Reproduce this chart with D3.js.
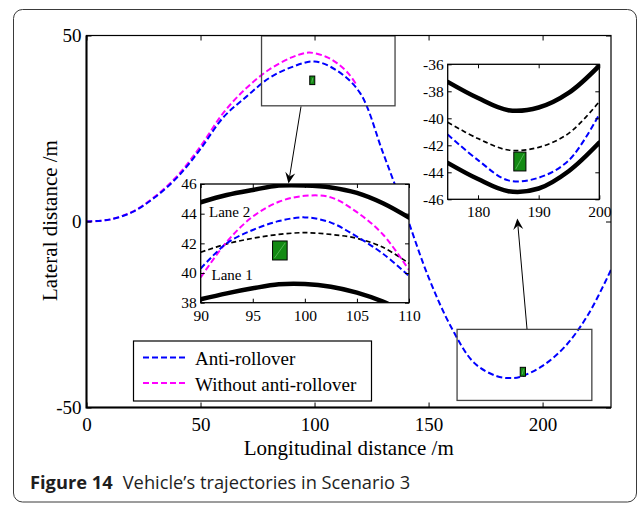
<!DOCTYPE html>
<html>
<head>
<meta charset="utf-8">
<script src="https://cdn.jsdelivr.net/npm/d3@7"></script>
<style>
  body { margin: 0; background: #fff; }
  svg { display: block; }
</style>
</head>
<body>
<svg id="chart" width="637" height="505"></svg>
<script>
// ---- data ----
// main plot trajectories
const mainX = [0, 10, 20, 30, 40, 50, 60, 70, 80, 90, 100, 110, 120, 130, 140, 150, 160, 170, 180, 186, 190, 200, 210, 220, 230];
const antiRollover = [0, 0.5, 2.5, 6.5, 12, 19.5, 28, 33.5, 38.5, 41.5, 43, 40.5, 34.5, 18.5, 2, -15, -28.5, -38, -41.6, -42.1, -41.8, -38.8, -33.5, -25, -13];
const magentaX = [0, 10, 20, 30, 40, 50, 60, 70, 80, 90, 97.5, 105, 110, 115, 118.5];
const withoutAntiRollover = [0, 0.5, 2.6, 6.7, 12.4, 20.2, 29.2, 35.8, 40.8, 44.1, 45.4, 44.3, 42.5, 39.7, 36.6];

// zoom rectangles drawn on the main plot (data units)
const zoomBoxes = [
    { x0: 76.75, x1: 135.3, y0: 31.1, y1: 49.9 },
    { x0: 162.5, x1: 221.6, y0: -48.1, y1: -29.0 }
];
// vehicle markers on the main plot
const mainVehicles = [
    { x0: 97.9, x1: 100.1, y0: 36.8, y1: 39.1 },
    { x0: 190.2, x1: 192.5, y0: -41.6, y1: -39.2 }
];

// inset 1 (x 90..110, y 38..46)
const inset1X = [90, 92.5, 95, 97.5, 100, 102.5, 105, 107.5, 110];
const inset1Blue = [40.3, 42.0, 42.9, 43.5, 43.75, 43.4, 42.45, 41.3, 39.8];
const inset1Magenta = [39.7, 42.1, 43.8, 44.8, 45.2, 45.1, 44.1, 42.6, 40.2];
const inset1Center = [41.4, 41.96, 42.34, 42.6, 42.72, 42.6, 42.34, 41.73, 40.65];
const inset1Lane2Edge = [44.77, 45.26, 45.6, 45.89, 45.9, 45.77, 45.4, 44.7, 43.73];
const inset1Lane1Edge = [38.23, 38.63, 38.97, 39.24, 39.26, 39.08, 38.68, 38.07, 37.2];
const inset1Vehicle = { x0: 96.9, x1: 98.3, y0: 40.88, y1: 42.16 };

// inset 2 (x 175..200, y -46..-36)
const inset2X = [175, 180, 185, 190, 195, 200];
const inset2Upper = [-37.3, -38.5, -39.4, -39.2, -38.1, -36.1];
const inset2Center = [-40.3, -41.5, -42.35, -42.15, -41.1, -38.77];
const inset2Blue = [-41.2, -43.1, -44.6, -44.4, -43.1, -39.7];
const inset2Lower = [-43.3, -44.5, -45.4, -45.2, -43.9, -41.8];
const inset2Vehicle = { x0: 185.9, x1: 187.9, y0: -43.9, y1: -42.5 };

const mainXTicks = [0, 50, 100, 150, 200];
const mainYTicks = [-50, 0, 50];
const inset1XTicks = [90, 95, 100, 105, 110];
const inset1YTicks = [38, 40, 42, 44, 46];
const inset2XTicks = [180, 190, 200];
const inset2YTicks = [-46, -44, -42, -40, -38, -36];

const seriesNames = ['Anti-rollover', 'Without anti-rollover'];
const seriesColours = ['#0000ff', '#ff00ff'];

// ---- drawing ----
const SERIF = '"Liberation Serif", "Times New Roman", serif';
const svg = d3.select('#chart');

// outer figure frame
svg.append('rect')
    .attr('x', 13.5).attr('y', 9.5)
    .attr('width', 623).attr('height', 492.5)
    .attr('rx', 9)
    .attr('fill', 'none')
    .attr('stroke', '#3a3a3a')
    .attr('stroke-width', 1);

const x = d3.scaleLinear().domain([0, 230]).range([86.5, 611]);
const y = d3.scaleLinear().domain([-50, 50]).range([407.5, 35.5]);

const toPts = (xs, ys) => xs.map((v, i) => [v, ys[i]]);
const plainNum = d => String(d); // hyphen minus like the original

function linePath(xs, ys, sx, sy) {
    return d3.line()
        .x(d => sx(d[0]))
        .y(d => sy(d[1]))
        .curve(d3.curveCatmullRom.alpha(0.5))(toPts(xs, ys));
}

function styleAxis(g, size) {
    g.attr('font-family', SERIF).attr('font-size', size);
    g.select('.domain').remove();
    g.selectAll('.tick line').attr('stroke', '#000').attr('stroke-width', 1);
    g.selectAll('.tick text')
        .style('font-family', SERIF)
        .style('font-size', `${size}px`)
        .style('fill', '#000');
}

// clip for main plot
const defs = svg.append('defs');
defs.append('clipPath').attr('id', 'clipMain')
    .append('rect')
    .attr('x', x(0)).attr('y', y(50))
    .attr('width', x(230) - x(0)).attr('height', y(-50) - y(50));

const main = svg.append('g');

// main curves
const mainCurves = main.append('g').attr('clip-path', 'url(#clipMain)');
mainCurves.append('path')
    .attr('d', linePath(magentaX, withoutAntiRollover, x, y))
    .attr('fill', 'none')
    .attr('stroke', seriesColours[1])
    .attr('stroke-width', 2)
    .attr('stroke-dasharray', '6,3');
mainCurves.append('path')
    .attr('d', linePath(mainX, antiRollover, x, y))
    .attr('fill', 'none')
    .attr('stroke', seriesColours[0])
    .attr('stroke-width', 2)
    .attr('stroke-dasharray', '6,3');

// zoom boxes
main.selectAll('rect.zoombox')
    .data(zoomBoxes)
    .enter()
    .append('rect')
    .attr('class', 'zoombox')
    .attr('x', d => x(d.x0))
    .attr('y', d => y(d.y1))
    .attr('width', d => x(d.x1) - x(d.x0))
    .attr('height', d => y(d.y0) - y(d.y1))
    .attr('fill', 'none')
    .attr('stroke', '#444')
    .attr('stroke-width', 1.3);

function drawVehicle(g, v, sx, sy) {
    g.append('rect')
        .attr('x', sx(v.x0))
        .attr('y', sy(v.y1))
        .attr('width', sx(v.x1) - sx(v.x0))
        .attr('height', sy(v.y0) - sy(v.y1))
        .attr('fill', '#138a13')
        .attr('stroke', '#000')
        .attr('stroke-width', 1);
    g.append('line')
        .attr('x1', sx(v.x0) + 2).attr('y1', sy(v.y0) - 2)
        .attr('x2', sx(v.x1) - 2).attr('y2', sy(v.y1) + 2)
        .attr('stroke', '#7fd07f')
        .attr('stroke-width', 0.6);
}
mainVehicles.forEach(v => drawVehicle(main, v, x, y));

// main axes
main.append('g')
    .attr('transform', `translate(0,${y(-50)})`)
    .call(d3.axisBottom(x).tickValues(mainXTicks).tickSize(-5).tickPadding(10).tickFormat(plainNum))
    .call(g => styleAxis(g, 19));
main.append('g')
    .attr('transform', `translate(0,${y(50)})`)
    .call(d3.axisTop(x).tickValues(mainXTicks).tickSize(-5).tickFormat(''))
    .call(g => styleAxis(g, 19));
main.append('g')
    .attr('transform', `translate(${x(0)},0)`)
    .call(d3.axisLeft(y).tickValues(mainYTicks).tickSize(-5).tickPadding(5).tickFormat(plainNum))
    .call(g => styleAxis(g, 19));
main.append('g')
    .attr('transform', `translate(${x(230)},0)`)
    .call(d3.axisRight(y).tickValues(mainYTicks).tickSize(-5).tickFormat(''))
    .call(g => styleAxis(g, 19));
main.append('rect')
    .attr('x', x(0)).attr('y', y(50))
    .attr('width', x(230) - x(0)).attr('height', y(-50) - y(50))
    .attr('fill', 'none').attr('stroke', '#000').attr('stroke-width', 1.2);
main.append('path')
    .attr('d', `M${x(0)},${y(50)}V${y(-50)}H${x(230)}`)
    .attr('fill', 'none').attr('stroke', '#000').attr('stroke-width', 2);

// axis titles
svg.append('text')
    .attr('x', (x(0) + x(230)) / 2)
    .attr('y', 455)
    .attr('text-anchor', 'middle')
    .style('font-family', SERIF)
    .style('font-size', '21px')
    .text('Longitudinal distance /m');
svg.append('text')
    .attr('transform', `translate(57,${y(0) - 1}) rotate(-90)`)
    .attr('text-anchor', 'middle')
    .style('font-family', SERIF)
    .style('font-size', '21px')
    .text('Lateral distance /m');

// legend
const legend = svg.append('g');
legend.append('rect')
    .attr('x', 133.5).attr('y', 341)
    .attr('width', 238).attr('height', 60)
    .attr('fill', '#fff').attr('stroke', '#000').attr('stroke-width', 1.2);
const legendRows = [357.5, 383];
seriesNames.forEach((name, i) => {
    legend.append('line')
        .attr('x1', 143).attr('x2', 188)
        .attr('y1', legendRows[i]).attr('y2', legendRows[i])
        .attr('stroke', seriesColours[i])
        .attr('stroke-width', 2)
        .attr('stroke-dasharray', '6,3');
    legend.append('text')
        .attr('x', 195)
        .attr('y', legendRows[i] + 7.5)
        .style('font-family', SERIF)
        .style('font-size', '19px')
        .text(name);
});

// ---- insets ----
function drawInset(opts) {
    const sx = d3.scaleLinear().domain(opts.xDomain).range(opts.xRange);
    const sy = d3.scaleLinear().domain(opts.yDomain).range(opts.yRange);
    const g = svg.append('g');
    defs.append('clipPath').attr('id', opts.id)
        .append('rect')
        .attr('x', opts.xRange[0]).attr('y', opts.yRange[1])
        .attr('width', opts.xRange[1] - opts.xRange[0])
        .attr('height', opts.yRange[0] - opts.yRange[1]);
    g.append('rect')
        .attr('x', opts.xRange[0]).attr('y', opts.yRange[1])
        .attr('width', opts.xRange[1] - opts.xRange[0])
        .attr('height', opts.yRange[0] - opts.yRange[1])
        .attr('fill', '#fff');
    const lines = g.append('g').attr('clip-path', `url(#${opts.id})`);
    opts.series.forEach((s) => {
        lines.append('path')
            .attr('d', linePath(opts.xs, s.values, sx, sy))
            .attr('fill', 'none')
            .attr('stroke', s.colour)
            .attr('stroke-width', s.width)
            .attr('stroke-dasharray', s.dash || null)
            .attr('stroke-linecap', s.dash ? 'butt' : 'round');
    });
    drawVehicle(g, opts.vehicle, sx, sy);

    g.append('g')
        .attr('transform', `translate(0,${opts.yRange[0]})`)
        .call(d3.axisBottom(sx).tickValues(opts.xTicks).tickSize(-4).tickPadding(7).tickFormat(plainNum))
        .call(a => styleAxis(a, 15.5));
    g.append('g')
        .attr('transform', `translate(0,${opts.yRange[1]})`)
        .call(d3.axisTop(sx).tickValues(opts.xTicks).tickSize(-4).tickFormat(''))
        .call(a => styleAxis(a, 15.5));
    g.append('g')
        .attr('transform', `translate(${opts.xRange[0]},0)`)
        .call(d3.axisLeft(sy).tickValues(opts.yTicks).tickSize(-4).tickPadding(4).tickFormat(plainNum))
        .call(a => styleAxis(a, 15.5));
    g.append('g')
        .attr('transform', `translate(${opts.xRange[1]},0)`)
        .call(d3.axisRight(sy).tickValues(opts.yTicks).tickSize(-4).tickFormat(''))
        .call(a => styleAxis(a, 15.5));
    g.append('rect')
        .attr('x', opts.xRange[0]).attr('y', opts.yRange[1])
        .attr('width', opts.xRange[1] - opts.xRange[0])
        .attr('height', opts.yRange[0] - opts.yRange[1])
        .attr('fill', 'none').attr('stroke', '#000').attr('stroke-width', 1.3);
    return { g, sx, sy };
}

const inset1 = drawInset({
    id: 'clipInset1',
    xDomain: [90, 110], xRange: [200.7, 409],
    yDomain: [38, 46], yRange: [302.7, 184],
    xs: inset1X,
    series: [
        { values: inset1Lane2Edge, colour: '#000', width: 4.5 },
        { values: inset1Lane1Edge, colour: '#000', width: 4.5 },
        { values: inset1Center, colour: '#000', width: 1.7, dash: '5,3' },
        { values: inset1Magenta, colour: seriesColours[1], width: 2, dash: '6,3' },
        { values: inset1Blue, colour: seriesColours[0], width: 2, dash: '6,3' }
    ],
    vehicle: inset1Vehicle,
    xTicks: inset1XTicks, yTicks: inset1YTicks
});
inset1.g.append('text')
    .attr('x', 209).attr('y', 216.5)
    .style('font-family', SERIF)
    .style('font-size', '15px')
    .text('Lane 2');
inset1.g.append('text')
    .attr('x', 211.5).attr('y', 280)
    .style('font-family', SERIF)
    .style('font-size', '15px')
    .text('Lane 1');

drawInset({
    id: 'clipInset2',
    xDomain: [175, 200], xRange: [447.7, 599.3],
    yDomain: [-46, -36], yRange: [199.3, 64.3],
    xs: inset2X,
    series: [
        { values: inset2Upper, colour: '#000', width: 4.5 },
        { values: inset2Lower, colour: '#000', width: 4.5 },
        { values: inset2Center, colour: '#000', width: 1.7, dash: '5,3' },
        { values: inset2Blue, colour: seriesColours[0], width: 2, dash: '6,3' }
    ],
    vehicle: inset2Vehicle,
    xTicks: inset2XTicks, yTicks: inset2YTicks
});

// arrows from zoom boxes to insets
function arrow(x1, y1, x2, y2) {
    const ang = Math.atan2(y2 - y1, x2 - x1);
    const len = 11, half = 5, back = 7;
    const p = (d, w) => [x2 - d * Math.cos(ang) - w * Math.sin(ang), y2 - d * Math.sin(ang) + w * Math.cos(ang)];
    svg.append('line')
        .attr('x1', x1).attr('y1', y1)
        .attr('x2', p(back, 0)[0]).attr('y2', p(back, 0)[1])
        .attr('stroke', '#000').attr('stroke-width', 1);
    svg.append('path')
        .attr('d', `M${x2},${y2}L${p(len, half)}L${p(back, 0)}L${p(len, -half)}Z`)
        .attr('fill', '#000');
}
arrow(301, 106.5, 288.5, 183.5);
arrow(527, 329, 517.3, 218.5);

// caption
const caption = svg.append('text')
    .attr('x', 30)
    .attr('y', 489)
    .style('font-family', '"Open Sans", "Noto Sans", sans-serif')
    .style('font-size', '18.3px')
    .style('fill', '#1e1e1e');
caption.append('tspan').style('font-weight', 'bold').text('Figure 14');
caption.append('tspan').attr('dx', 10).text('Vehicle’s trajectories in Scenario 3');
</script>
</body>
</html>
